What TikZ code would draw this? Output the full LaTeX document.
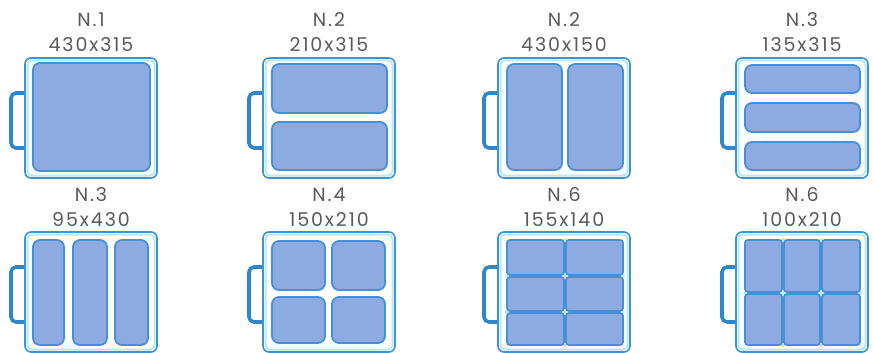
\documentclass[tikz,border=0pt]{standalone}
\usepackage{fontspec}
\setmainfont{Poppins}[LetterSpace=10]
\definecolor{frameblue}{HTML}{3F92D4}
\definecolor{framecyan}{HTML}{B5EBFA}
\definecolor{compfill}{HTML}{8DABE0}
\definecolor{compline}{HTML}{4690D8}
\definecolor{handleblue}{HTML}{2F86C8}
\definecolor{txtgray}{HTML}{5A5A5A}
\newcommand\trayframe[2]{%
  \begin{scope}[shift={(#1,#2)}]
    \draw[handlestyle] (0,35) -- (-14,35) -- (-14,90) -- (0,90);
    \draw[frameout] (0,0) rectangle (132,120);
    \draw[framein] (2.5,2.5) rectangle (129.5,117.5);
  \end{scope}}
\newcommand\comp[4]{\draw[compstyle] (#1,#2) rectangle (#3,#4);}
\newcommand\cell[4]{\draw[cellstyle] (#1,#2) rectangle (#3,#4);}
\newcommand\jdot[2]{\fill[framecyan] (#1,#2) circle (1.8);}
\begin{document}
\begin{tikzpicture}[x=1pt,y=-1pt,
  frameout/.style={draw=frameblue,line width=1.6pt,fill=white,rounded corners=6pt},
  framein/.style={draw=framecyan,line width=2pt,rounded corners=4.5pt},
  handlestyle/.style={draw=handleblue,line width=3.6pt,rounded corners=5pt},
  compstyle/.style={draw=compline,fill=compfill,line width=1.8pt,rounded corners=7pt},
  cellstyle/.style={draw=compline,fill=compfill,line width=1.8pt,rounded corners=3pt},
  lbl/.style={text=txtgray,font=\fontsize{19}{21}\selectfont,inner sep=0pt}]
\useasboundingbox (0,0) rectangle (873,353);

% ---------- top row ----------
\trayframe{25}{58}
\begin{scope}[shift={(25,58)}]
  \comp{8}{5}{125}{113}
\end{scope}
\node[lbl] (t1a) at (91,20) {N.1};
\node[lbl] (t1b) at (91,45) {430x315};

\trayframe{263}{58}
\begin{scope}[shift={(263,58)}]
  \comp{9}{6}{124}{55}
  \comp{9}{64}{124}{112}
\end{scope}
\node[lbl] (t2a) at (329,20) {N.2};
\node[lbl] (t2b) at (329,45) {210x315};

\trayframe{498}{58}
\begin{scope}[shift={(498,58)}]
  \comp{9}{6}{64}{112}
  \comp{70}{6}{125}{112}
\end{scope}
\node[lbl] (t3a) at (564,20) {N.2};
\node[lbl] (t3b) at (564,45) {430x150};

\trayframe{736}{58}
\begin{scope}[shift={(736,58)}]
  \comp{9}{7}{124}{35}
  \comp{9}{45}{124}{74}
  \comp{9}{84}{124}{112}
\end{scope}
\node[lbl] (t4a) at (802,20) {N.3};
\node[lbl] (t4b) at (802,45) {135x315};

% ---------- bottom row ----------
\trayframe{25}{232}
\begin{scope}[shift={(25,232)}]
  \comp{8}{8}{39}{113}
  \comp{48}{8}{82}{113}
  \comp{90}{8}{123}{113}
\end{scope}
\node[lbl] (t5a) at (91,195) {N.3};
\node[lbl] (t5b) at (91,220) {95x430};

\trayframe{263}{232}
\begin{scope}[shift={(263,232)}]
  \comp{9}{9}{62}{58}
  \comp{69}{9}{122}{58}
  \comp{9}{65}{62}{111}
  \comp{69}{65}{122}{111}
\end{scope}
\node[lbl] (t6a) at (329,195) {N.4};
\node[lbl] (t6b) at (329,220) {150x210};

\trayframe{498}{232}
\begin{scope}[shift={(498,232)}]
  \cell{9}{8}{66}{43}
  \cell{68}{8}{125}{43}
  \cell{9}{45}{66}{79}
  \cell{68}{45}{125}{79}
  \cell{9}{81}{66}{113}
  \cell{68}{81}{125}{113}
  \jdot{67}{44}\jdot{67}{80}\jdot{67}{7.5}\jdot{67}{113.5}
  \jdot{8.5}{44}\jdot{8.5}{80}\jdot{125.5}{44}\jdot{125.5}{80}
\end{scope}
\node[lbl] (t7a) at (564,195) {N.6};
\node[lbl] (t7b) at (564,220) {155x140};

\trayframe{736}{232}
\begin{scope}[shift={(736,232)}]
  \cell{9}{8}{46}{60}
  \cell{48}{8}{84}{60}
  \cell{86}{8}{124}{60}
  \cell{9}{62}{46}{113}
  \cell{48}{62}{84}{113}
  \cell{86}{62}{124}{113}
  \jdot{47}{61}\jdot{85}{61}\jdot{47}{7.5}\jdot{85}{7.5}
  \jdot{47}{113.5}\jdot{85}{113.5}\jdot{8.5}{61}\jdot{124.5}{61}
\end{scope}
\node[lbl] (t8a) at (802,195) {N.6};
\node[lbl] (t8b) at (802,220) {100x210};
\end{tikzpicture}
\end{document}
